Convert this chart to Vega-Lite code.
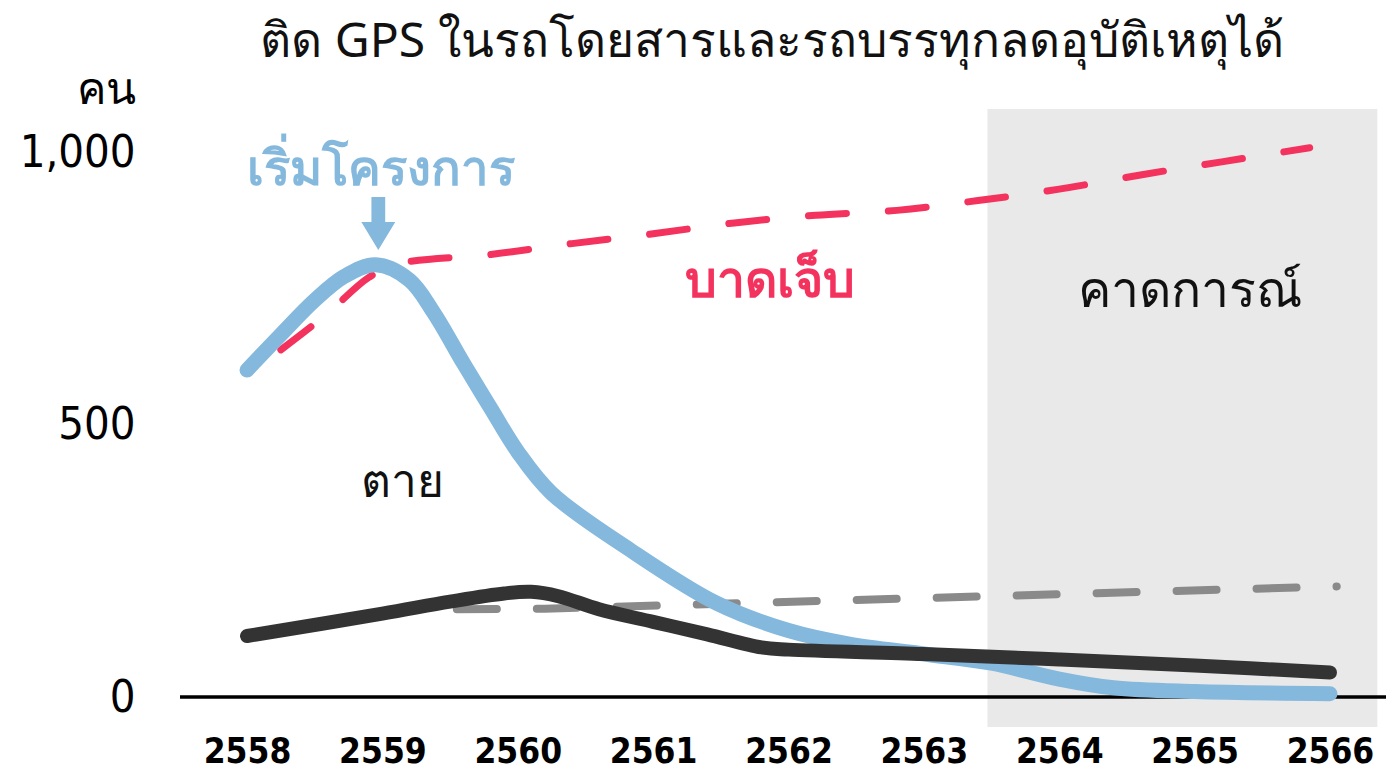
{
  "$schema": "https://vega.github.io/schema/vega-lite/v6.json",
  "autosize": {"type": "none"},
  "padding": {"left": 180, "top": 109, "right": 0, "bottom": 42},
  "width": 1206,
  "height": 618,
  "background": "white",
  "config": {"view": {"stroke": null}, "font": "Noto Sans"},
  "title": {"text": "ติด GPS ในรถโดยสารและรถบรรทุกลดอุบัติเหตุได้", "fontSize": 48, "fontWeight": "normal", "color": "#111111", "anchor": "middle", "frame": "group", "dx": -11, "baseline": "alphabetic", "offset": -37},
  "datasets": {
    "shade": [{"x1": 2563.47, "x2": 2566.35, "y1": -55, "y2": 1079}],
    "blue": [
      {"year": 2558.0, "value": 600}, {"year": 2558.25, "value": 665}, {"year": 2558.5, "value": 728},
      {"year": 2558.72, "value": 772}, {"year": 2558.95, "value": 793}, {"year": 2559.2, "value": 765},
      {"year": 2559.38, "value": 705}, {"year": 2559.6, "value": 612}, {"year": 2559.8, "value": 530},
      {"year": 2560.0, "value": 450}, {"year": 2560.25, "value": 374}, {"year": 2560.83, "value": 270},
      {"year": 2561.47, "value": 172}, {"year": 2562.0, "value": 122}, {"year": 2562.45, "value": 97},
      {"year": 2563.0, "value": 79}, {"year": 2563.5, "value": 62}, {"year": 2564.0, "value": 33},
      {"year": 2564.4, "value": 17}, {"year": 2565.0, "value": 10}, {"year": 2566.0, "value": 6}
    ],
    "black": [
      {"year": 2558.0, "value": 112}, {"year": 2559.0, "value": 153},
      {"year": 2559.5, "value": 175}, {"year": 2559.9, "value": 190}, {"year": 2560.1, "value": 193},
      {"year": 2560.3, "value": 185}, {"year": 2560.6, "value": 161}, {"year": 2561.0, "value": 138},
      {"year": 2561.4, "value": 115}, {"year": 2561.8, "value": 91}, {"year": 2562.0, "value": 87},
      {"year": 2563.0, "value": 79}, {"year": 2564.0, "value": 69}, {"year": 2565.0, "value": 58},
      {"year": 2566.0, "value": 45}
    ],
    "red": [
      {"year": 2558.25, "value": 637}, {"year": 2558.6, "value": 705}, {"year": 2558.9, "value": 770},
      {"year": 2559.1, "value": 795}, {"year": 2559.8, "value": 812}, {"year": 2560.4, "value": 832},
      {"year": 2561.0, "value": 850}, {"year": 2561.6, "value": 870}, {"year": 2562.2, "value": 884},
      {"year": 2562.8, "value": 893}, {"year": 2563.4, "value": 911}, {"year": 2564.0, "value": 932},
      {"year": 2564.6, "value": 958}, {"year": 2565.2, "value": 982}, {"year": 2565.85, "value": 1008}
    ],
    "grey": [
      {"year": 2559.55, "value": 161}, {"year": 2560.2, "value": 162}, {"year": 2566.05, "value": 203}
    ],
    "start": [{"year": 2558.99, "value": 939, "text": "เริ่มโครงการ"}],
    "arrow": [{"year": 2558.97, "value": 869}],
    "injured": [{"year": 2561.86, "value": 734, "text": "บาดเจ็บ"}],
    "dead": [{"year": 2559.145, "value": 367, "text": "ตาย"}],
    "forecast": [{"year": 2564.966, "value": 716, "text": "คาดการณ์"}],
    "base": [{"year": 2557.505, "year2": 2566.414, "value": 0}]
  },
  "layer": [
    {
      "data": {"name": "shade"},
      "mark": {"type": "rect", "color": "#e9e9e9"},
      "encoding": {
        "x": {"field": "x1", "type": "quantitative", "scale": {"domain": [2557.505, 2566.414], "nice": false, "zero": false},
              "axis": {"values": [2558, 2559, 2560, 2561, 2562, 2563, 2564, 2565, 2566], "format": "d", "title": null, "domain": false, "ticks": false, "grid": false,
                       "labelFont": "DejaVu Sans Condensed", "labelFontSize": 35, "labelFontWeight": "bold", "labelColor": "#000000", "labelPadding": 7, "labelBaseline": "top"}},
        "x2": {"field": "x2"},
        "y": {"field": "y1", "type": "quantitative", "scale": {"domain": [-55, 1079], "nice": false, "zero": false},
              "axis": {"values": [0, 500, 1000], "format": ",d", "domain": false, "ticks": false, "grid": false,
                       "labelFont": "DejaVu Sans Condensed", "labelFontSize": 45, "labelColor": "#000000", "labelPadding": 45, "labelBaseline": "middle",
                       "title": "คน", "titleAngle": 0, "titleAlign": "right", "titleBaseline": "middle", "titleX": -45, "titleY": -19, "titleFontSize": 44, "titleFontWeight": "normal", "titleColor": "#000000"}},
        "y2": {"field": "y2"}
      }
    },
    {
      "data": {"name": "base"},
      "mark": {"type": "rule", "color": "#000000", "strokeWidth": 3.5},
      "encoding": {"x": {"field": "year", "type": "quantitative"}, "x2": {"field": "year2"}, "y": {"field": "value", "type": "quantitative"}}
    },
    {
      "data": {"name": "grey"},
      "mark": {"type": "line", "color": "#8a8a8a", "strokeWidth": 8, "strokeDash": [40, 40], "strokeCap": "round"},
      "encoding": {"x": {"field": "year", "type": "quantitative"}, "y": {"field": "value", "type": "quantitative"}}
    },
    {
      "data": {"name": "red"},
      "mark": {"type": "line", "color": "#f4325e", "strokeWidth": 7, "strokeDash": [38, 42], "strokeCap": "round", "interpolate": "monotone"},
      "encoding": {"x": {"field": "year", "type": "quantitative"}, "y": {"field": "value", "type": "quantitative"}}
    },
    {
      "data": {"name": "blue"},
      "mark": {"type": "line", "color": "#84b8dd", "strokeWidth": 15, "strokeCap": "round", "strokeJoin": "round", "interpolate": "catmull-rom"},
      "encoding": {"x": {"field": "year", "type": "quantitative"}, "y": {"field": "value", "type": "quantitative"}}
    },
    {
      "data": {"name": "black"},
      "mark": {"type": "line", "color": "#333333", "strokeWidth": 14, "strokeCap": "round", "strokeJoin": "round", "interpolate": "catmull-rom"},
      "encoding": {"x": {"field": "year", "type": "quantitative"}, "y": {"field": "value", "type": "quantitative"}}
    },
    {
      "data": {"name": "arrow"},
      "mark": {"type": "point", "filled": true, "color": "#84b8dd", "opacity": 1, "size": 2809, "shape": "M-0.26,-1L0.26,-1L0.26,-0.05L0.64,-0.05L0,1L-0.64,-0.05L-0.26,-0.05Z"},
      "encoding": {"x": {"field": "year", "type": "quantitative"}, "y": {"field": "value", "type": "quantitative"}}
    },
    {
      "data": {"name": "start"},
      "mark": {"type": "text", "color": "#84b8dd", "fontSize": 49, "fontWeight": "bold", "align": "center", "baseline": "alphabetic"},
      "encoding": {"x": {"field": "year", "type": "quantitative"}, "y": {"field": "value", "type": "quantitative"}, "text": {"field": "text"}}
    },
    {
      "data": {"name": "injured"},
      "mark": {"type": "text", "color": "#f4325e", "fontSize": 50, "fontWeight": "bold", "align": "center", "baseline": "alphabetic"},
      "encoding": {"x": {"field": "year", "type": "quantitative"}, "y": {"field": "value", "type": "quantitative"}, "text": {"field": "text"}}
    },
    {
      "data": {"name": "dead"},
      "mark": {"type": "text", "color": "#111111", "fontSize": 46, "align": "center", "baseline": "alphabetic"},
      "encoding": {"x": {"field": "year", "type": "quantitative"}, "y": {"field": "value", "type": "quantitative"}, "text": {"field": "text"}}
    },
    {
      "data": {"name": "forecast"},
      "mark": {"type": "text", "color": "#111111", "fontSize": 50, "align": "center", "baseline": "alphabetic"},
      "encoding": {"x": {"field": "year", "type": "quantitative"}, "y": {"field": "value", "type": "quantitative"}, "text": {"field": "text"}}
    }
  ]
}
